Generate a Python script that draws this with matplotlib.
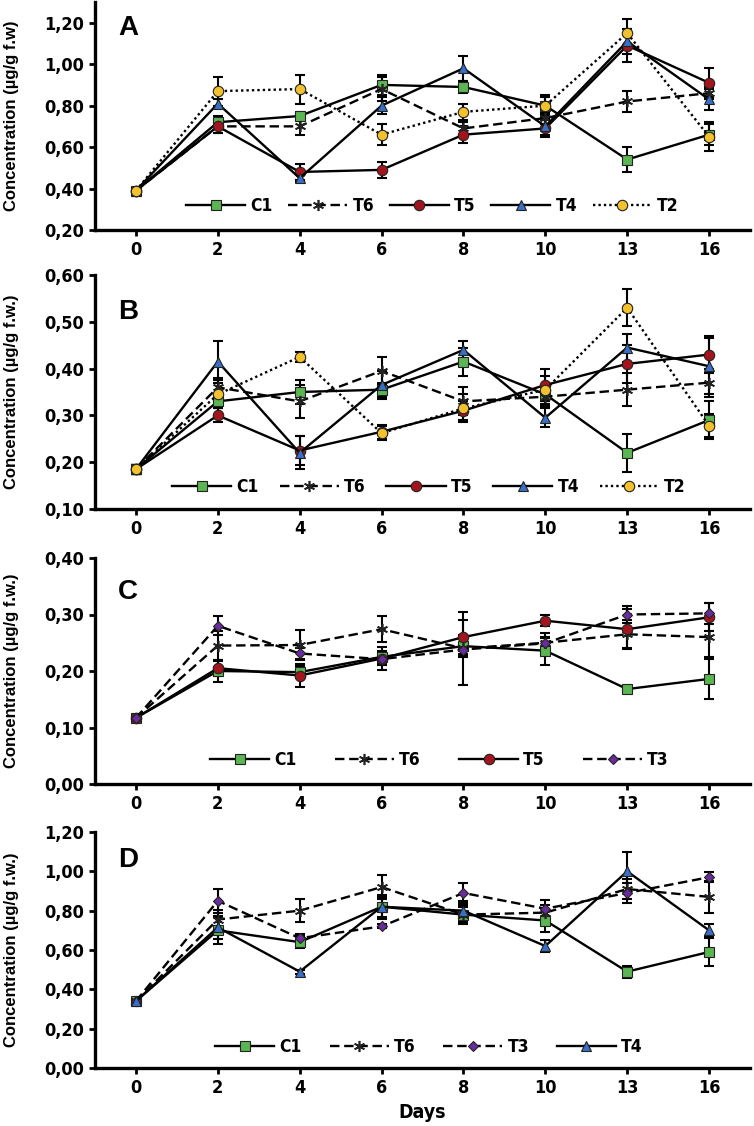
import numpy as np
import matplotlib
matplotlib.use("Agg")
import matplotlib.pyplot as plt
from matplotlib import font_manager
from matplotlib.ticker import FixedLocator, FuncFormatter

days = ["0", "2", "4", "6", "8", "10", "13", "16"]

# panel A
a_c1 = [0.39, 0.72, 0.75, 0.90, 0.89, 0.80, 0.54, 0.66]
a_c1_err = [0.01, 0.03, 0.02, 0.05, 0.03, 0.04, 0.06, 0.05]
a_t6 = [0.39, 0.70, 0.70, 0.88, 0.69, 0.74, 0.82, 0.86]
a_t6_err = [0.01, 0.03, 0.04, 0.06, 0.03, 0.03, 0.05, 0.03]
a_t5 = [0.39, 0.70, 0.48, 0.49, 0.66, 0.69, 1.09, 0.91]
a_t5_err = [0.01, 0.03, 0.04, 0.04, 0.04, 0.04, 0.08, 0.07]
a_t4 = [0.39, 0.81, 0.45, 0.80, 0.98, 0.70, 1.11, 0.83]
a_t4_err = [0.01, 0.02, 0.02, 0.04, 0.06, 0.04, 0.06, 0.05]
a_t2 = [0.39, 0.87, 0.88, 0.66, 0.77, 0.80, 1.15, 0.65]
a_t2_err = [0.01, 0.07, 0.07, 0.05, 0.04, 0.05, 0.07, 0.07]

# panel B
b_c1 = [0.185, 0.33, 0.35, 0.355, 0.415, 0.345, 0.22, 0.29]
b_c1_err = [0.01, 0.015, 0.025, 0.015, 0.03, 0.02, 0.04, 0.04]
b_t6 = [0.185, 0.36, 0.33, 0.395, 0.33, 0.34, 0.355, 0.37]
b_t6_err = [0.01, 0.02, 0.035, 0.03, 0.03, 0.02, 0.035, 0.03]
b_t5 = [0.185, 0.30, 0.225, 0.265, 0.31, 0.365, 0.41, 0.43]
b_t5_err = [0.01, 0.015, 0.03, 0.015, 0.02, 0.035, 0.04, 0.04]
b_t4 = [0.185, 0.415, 0.22, 0.365, 0.44, 0.295, 0.445, 0.405]
b_t4_err = [0.01, 0.045, 0.035, 0.03, 0.02, 0.02, 0.03, 0.06]
b_t2 = [0.185, 0.345, 0.425, 0.262, 0.315, 0.355, 0.53, 0.278]
b_t2_err = [0.01, 0.03, 0.01, 0.015, 0.03, 0.03, 0.04, 0.025]

# panel C
c_c1 = [0.117, 0.20, 0.198, 0.225, 0.244, 0.236, 0.168, 0.186]
c_c1_err = [0.005, 0.02, 0.01, 0.01, 0.02, 0.025, 0.005, 0.035]
c_t6 = [0.117, 0.245, 0.246, 0.274, 0.24, 0.25, 0.265, 0.26]
c_t6_err = [0.005, 0.025, 0.027, 0.023, 0.065, 0.017, 0.025, 0.035]
c_t5 = [0.117, 0.205, 0.192, 0.222, 0.26, 0.289, 0.274, 0.295]
c_t5_err = [0.005, 0.013, 0.02, 0.02, 0.03, 0.01, 0.035, 0.025]
c_t3 = [0.117, 0.28, 0.231, 0.221, 0.238, 0.249, 0.30, 0.302]
c_t3_err = [0.005, 0.017, 0.01, 0.01, 0.01, 0.01, 0.015, 0.018]

# panel D
d_c1 = [0.34, 0.70, 0.64, 0.82, 0.78, 0.75, 0.49, 0.59]
d_c1_err = [0.01, 0.07, 0.03, 0.06, 0.05, 0.06, 0.03, 0.07]
d_t6 = [0.34, 0.755, 0.80, 0.92, 0.78, 0.79, 0.91, 0.87]
d_t6_err = [0.01, 0.05, 0.06, 0.06, 0.04, 0.04, 0.05, 0.08]
d_t3 = [0.34, 0.85, 0.66, 0.72, 0.89, 0.81, 0.89, 0.97]
d_t3_err = [0.01, 0.06, 0.02, 0.01, 0.05, 0.045, 0.05, 0.025]
d_t4 = [0.34, 0.715, 0.49, 0.82, 0.80, 0.62, 1.00, 0.70]
d_t4_err = [0.01, 0.06, 0.01, 0.05, 0.05, 0.03, 0.10, 0.03]

# condensed bold, close to the narrow face of the original
def narrow(size):
    return font_manager.FontProperties(family="DejaVu Sans", stretch="condensed",
                                       weight="bold", size=size)

# name: (marker, size, face colour, linestyle)
styles = {
    "C1": ("s", 7, "#5ab552", "-"),
    "T6": ((6, 2, 0), 8, "black", (0, (4, 2))),
    "T5": ("o", 7.5, "#a3141c", "-"),
    "T4": ("^", 6.5, "#3a6fc8", "-"),
    "T2": ("o", 7.5, "#f2c12c", (0, (1, 1.3))),
    "T3": ("D", 5, "#6a2c9c", (0, (4, 2))),
}

panels = [
    ("A", (0.2, 1.3), [0.2, 0.4, 0.6, 0.8, 1.0, 1.2], "Concentration (µg/g f.w)",
     [("C1", a_c1, a_c1_err), ("T6", a_t6, a_t6_err), ("T5", a_t5, a_t5_err),
      ("T4", a_t4, a_t4_err), ("T2", a_t2, a_t2_err)],
     (230, 2), (0.515, 0.106), 0.9, 0.886),
    ("B", (0.1, 0.6), [0.1, 0.2, 0.3, 0.4, 0.5, 0.6], "Concentration (µg/g f.w.)",
     [("C1", b_c1, b_c1_err), ("T6", b_t6, b_t6_err), ("T5", b_t5, b_t5_err),
      ("T4", b_t4, b_t4_err), ("T2", b_t2, b_t2_err)],
     (509, 275), (0.51, 0.094), 1.2, 0.843),
    ("C", (0.0, 0.4), [0.0, 0.1, 0.2, 0.3, 0.4], "Concentration (µg/g f.w.)",
     [("C1", c_c1, c_c1_err), ("T6", c_t6, c_t6_err), ("T5", c_t5, c_t5_err),
      ("T3", c_t3, c_t3_err)],
     (784, 558), (0.526, 0.106), 2.2, 0.851),
    ("D", (0.0, 1.2), [0.0, 0.2, 0.4, 0.6, 0.8, 1.0, 1.2], "Concentration (µg/g f.w.)",
     [("C1", d_c1, d_c1_err), ("T6", d_t6, d_t6_err), ("T3", d_t3, d_t3_err),
      ("T4", d_t4, d_t4_err)],
     (1068, 832), (0.51, 0.089), 1.6, 0.881),
]

W, H = 754, 1126
fig = plt.figure(figsize=(W / 100, H / 100), dpi=100)
x = np.arange(len(days))
left, right = 95, 750

for letter, ylim, yticks, ylabel, series, (ybot, ytop), legpos, colsp, lety in panels:
    ax = fig.add_axes([left / W, 1 - ybot / H, (right - left) / W, (ybot - ytop) / H])
    handles = []
    for name, vals, err in series:
        mk, ms, fc, ls = styles[name]
        ax.errorbar(x, vals, yerr=err, fmt="none", ecolor="black", elinewidth=1.5,
                    capsize=3.5, capthick=1.5, zorder=2)
        h, = ax.plot(x, vals, color="black", lw=1.7, linestyle=ls, marker=mk,
                     markersize=ms, markerfacecolor=fc, markeredgecolor="#222222",
                     markeredgewidth=0.8 if name != "T6" else 1.2, label=name, zorder=3)
        handles.append(h)
    ax.set_xlim(-0.5, 7.5)
    ax.set_ylim(*ylim)
    ax.yaxis.set_major_locator(FixedLocator(yticks))
    ax.yaxis.set_major_formatter(FuncFormatter(lambda v, p: f"{v:.2f}".replace(".", ",")))
    ax.set_xticks(x)
    ax.set_xticklabels(days)
    for s in ["top", "right"]:
        ax.spines[s].set_visible(False)
    for s in ["left", "bottom"]:
        ax.spines[s].set_linewidth(2.4)
    ax.tick_params(axis="both", width=2, length=4, pad=4)
    for lab in ax.get_xticklabels() + ax.get_yticklabels():
        lab.set_fontproperties(narrow(13))
    ax.set_ylabel(ylabel, fontsize=12, fontweight="bold", family="Liberation Sans")
    ax.yaxis.set_label_coords(-0.116, 0.5)
    ax.text(0.035, lety, letter, transform=ax.transAxes, fontsize=20, fontweight="bold",
            family="Liberation Sans", va="center", ha="left")
    ax.legend(handles=handles, loc="center", bbox_to_anchor=legpos, ncol=len(handles),
              frameon=False, handlelength=3.4, handletextpad=0.3, columnspacing=colsp,
              prop=narrow(12.5), borderpad=0)
    if letter == "D":
        ax.set_xlabel("Days", fontproperties=narrow(14), labelpad=4)

fig.savefig("out.png", dpi=100)
